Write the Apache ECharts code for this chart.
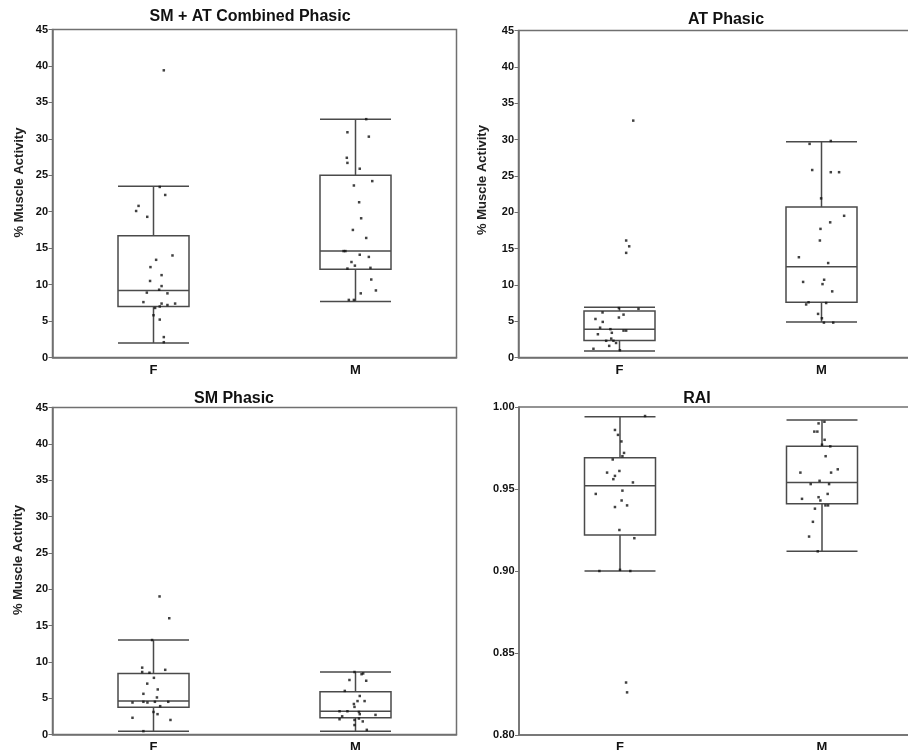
<!DOCTYPE html>
<html><head><meta charset="utf-8">
<script src="https://cdn.jsdelivr.net/npm/echarts@6/dist/echarts.min.js"></script>
<style>html,body{margin:0;padding:0;background:#fff}#c{width:908px;height:750px}</style>
</head><body><div id="c"></div>
<script>
const categories = ['F', 'M'];
const yTicksPct = [0, 5, 10, 15, 20, 25, 30, 35, 40, 45];
const yTicksRAI = ['0.80', '0.85', '0.90', '0.95', '1.00'];
const titles = ['SM + AT Combined Phasic', 'AT Phasic', 'SM Phasic', 'RAI'];

// box stats: [lowerWhisker, Q1, median, Q3, upperWhisker]
const combinedBoxF = [2.0, 7.0, 9.2, 16.7, 23.5];
const combinedBoxM = [7.7, 12.1, 14.6, 25.0, 32.7];
const atBoxF = [0.9, 2.35, 3.9, 6.4, 6.9];
const atBoxM = [4.9, 7.6, 12.5, 20.7, 29.7];
const smBoxF = [0.45, 3.75, 4.6, 8.4, 13.0];
const smBoxM = [0.45, 2.3, 3.2, 5.9, 8.6];
const raiBoxF = [0.900, 0.922, 0.952, 0.969, 0.994];
const raiBoxM = [0.912, 0.941, 0.954, 0.976, 0.992];

// individual observations
const combinedF = [39.4, 23.4, 22.3, 20.8, 20.1, 19.3, 14.0, 13.4, 12.4, 11.3, 10.5, 9.8, 9.3, 8.9, 8.8, 7.6, 7.4, 7.4, 7.2, 7.0, 6.8, 5.8, 5.2, 2.8, 2.1];
const combinedFJit = [0.051, 0.031, 0.058, -0.074, -0.086, -0.031, 0.094, 0.013, -0.015, 0.040, -0.017, 0.040, 0.028, -0.033, 0.069, -0.050, 0.040, 0.107, 0.069, 0.031, 0.008, 0, 0.031, 0.051, 0.051];
const combinedM = [32.7, 30.9, 30.3, 27.4, 26.7, 25.9, 24.2, 23.6, 21.3, 19.1, 17.5, 16.4, 14.6, 14.6, 14.1, 13.8, 13.1, 12.6, 12.2, 12.3, 10.7, 9.2, 8.8, 7.9, 7.9];
const combinedMJit = [0.053, -0.040, 0.066, -0.043, -0.040, 0.021, 0.083, -0.008, 0.018, 0.028, -0.013, 0.053, -0.059, -0.050, 0.021, 0.066, -0.020, -0.003, -0.040, 0.074, 0.078, 0.101, 0.026, -0.033, -0.008];

const atF = [32.6, 16.1, 15.3, 14.4, 6.8, 6.7, 6.2, 5.9, 5.3, 5.5, 4.9, 4.1, 3.9, 3.7, 3.7, 3.2, 3.4, 2.6, 2.3, 2.3, 2.0, 1.6, 1.2, 1.0];
const atFJit = [0.068, 0.033, 0.048, 0.033, -0.003, 0.094, -0.084, 0.020, -0.119, -0.003, -0.083, -0.096, -0.045, 0.020, 0.033, -0.107, -0.038, -0.041, -0.066, -0.030, -0.017, -0.051, -0.129, 0.002];
const atM = [29.4, 29.8, 25.8, 25.5, 25.5, 21.9, 19.5, 18.6, 17.7, 16.1, 13.8, 13.0, 10.4, 10.7, 10.1, 9.1, 7.6, 7.3, 7.5, 6.0, 5.4, 4.8, 4.8];
const atMJit = [-0.059, 0.046, -0.046, 0.046, 0.087, -0.002, 0.112, 0.043, -0.005, -0.008, -0.112, 0.033, -0.091, 0.013, 0.005, 0.053, -0.064, -0.076, 0.023, -0.017, 0.002, 0.012, 0.058];

const smF = [19.0, 16.0, 13.0, 9.2, 8.6, 8.5, 8.9, 7.8, 7.0, 6.2, 5.6, 5.1, 4.4, 4.5, 4.4, 4.5, 4.5, 3.9, 3.1, 2.8, 2.3, 2.0, 0.46];
const smFJit = [0.030, 0.078, -0.007, -0.056, -0.056, -0.020, 0.058, 0.002, -0.031, 0.021, -0.050, 0.017, -0.104, -0.050, -0.030, 0.007, 0.073, 0.033, 0, 0.020, -0.104, 0.084, -0.050];
const smM = [8.6, 8.3, 8.4, 7.5, 7.4, 6.0, 5.3, 4.6, 4.6, 4.2, 3.8, 3.2, 3.2, 3.1, 2.8, 2.7, 2.5, 2.1, 2.2, 2.0, 1.8, 1.3, 0.64];
const smMJit = [-0.005, 0.030, 0.038, -0.030, 0.053, -0.053, 0.021, 0.010, 0.045, -0.008, -0.005, -0.079, -0.040, 0.017, 0.021, 0.099, -0.066, -0.079, 0.017, -0.005, 0.036, -0.005, 0.056];

const raiF = [0.9945, 0.986, 0.983, 0.979, 0.972, 0.970, 0.968, 0.960, 0.961, 0.958, 0.956, 0.954, 0.949, 0.947, 0.943, 0.940, 0.939, 0.925, 0.920, 0.9007, 0.900, 0.900, 0.832, 0.826];
const raiFJit = [0.124, -0.025, -0.010, 0.007, 0.020, 0.012, -0.036, -0.064, -0.003, -0.025, -0.033, 0.064, 0.012, -0.120, 0.008, 0.035, -0.025, -0.003, 0.071, 0, -0.102, 0.051, 0.030, 0.035];
const raiM = [0.991, 0.990, 0.985, 0.985, 0.980, 0.977, 0.976, 0.970, 0.962, 0.960, 0.960, 0.955, 0.953, 0.953, 0.947, 0.944, 0.945, 0.943, 0.940, 0.940, 0.938, 0.930, 0.921, 0.912];
const raiMJit = [0.012, -0.017, -0.038, -0.023, 0.013, 0, 0.041, 0.018, 0.078, -0.107, 0.045, -0.012, -0.056, 0.035, 0.028, -0.099, -0.017, -0.008, 0.017, 0.030, -0.035, -0.045, -0.064, -0.021];

const FONT = '"Liberation Sans", Arial, sans-serif';
const AXIS = '#707070';
const panels = [
  {title: titles[0], grid: {left: 52.5, top: 29.5, width: 404, height: 328}, titlePos: [250, 9], yName: '% Muscle Activity', nameGap: 27, nameShift: 22,
   boxes: [combinedBoxF, combinedBoxM], pts: [[combinedF, combinedFJit], [combinedM, combinedMJit]], ticks: yTicksPct},
  {title: titles[1], grid: {left: 518.5, top: 30.5, width: 404, height: 327}, titlePos: [726, 12], yName: '% Muscle Activity', nameGap: 30, nameShift: 28,
   boxes: [atBoxF, atBoxM], pts: [[atF, atFJit], [atM, atMJit]], ticks: yTicksPct},
  {title: titles[2], grid: {left: 52.5, top: 407.5, width: 404, height: 327}, titlePos: [234, 391], yName: '% Muscle Activity', nameGap: 28, nameShift: 22,
   boxes: [smBoxF, smBoxM], pts: [[smF, smFJit], [smM, smMJit]], ticks: yTicksPct},
  {title: titles[3], grid: {left: 519, top: 407, width: 404, height: 328}, titlePos: [697, 391], yName: '', nameGap: 30, nameShift: 0,
   boxes: [raiBoxF, raiBoxM], pts: [[raiF, raiFJit], [raiM, raiMJit]], ticks: yTicksRAI}
];

const option = {animation: false, backgroundColor: '#fff', title: [], grid: [], xAxis: [], yAxis: [], series: []};
panels.forEach((p, i) => {
  option.title.push({text: p.title, left: p.titlePos[0], top: p.titlePos[1], textAlign: 'center', padding: 0,
    textStyle: {fontFamily: FONT, fontSize: 16, fontWeight: 'bold', color: '#111'}});
  option.grid.push(Object.assign({show: true, borderColor: AXIS, borderWidth: 1.5, backgroundColor: 'transparent',
    containLabel: false, outerBoundsMode: 'none'}, p.grid));
  option.xAxis.push({type: 'category', gridIndex: i, data: categories, boundaryGap: true,
    axisLine: {onZero: false, lineStyle: {color: AXIS, width: 1.5}}, axisTick: {show: false},
    axisLabel: {fontFamily: FONT, fontSize: 13, fontWeight: 'bold', color: '#111', margin: 6}});
  option.xAxis.push({type: 'value', gridIndex: i, min: -0.5, max: 1.5, show: false});
  const t = p.ticks.map(Number);
  const interval = t[1] - t[0];
  option.yAxis.push({type: 'value', gridIndex: i, min: t[0], max: t[t.length - 1], interval: interval,
    name: p.yName, nameLocation: 'middle', nameGap: p.nameGap,
    nameTextStyle: {fontFamily: FONT, fontSize: 13, fontWeight: 'bold', color: '#222', padding: [0, 0, 0, p.nameShift]},
    splitLine: {show: false},
    axisLine: {show: true, onZero: false, lineStyle: {color: AXIS, width: 1.5}},
    axisTick: {show: true, length: 4, lineStyle: {color: AXIS, width: 1}},
    axisLabel: {fontFamily: FONT, fontSize: 11, fontWeight: 'bold', color: '#111', margin: 4.5,
      formatter: v => { const idx = t.findIndex(x => Math.abs(x - v) < 1e-6); return idx >= 0 ? String(p.ticks[idx]) : ''; }}});
  option.series.push({type: 'boxplot', xAxisIndex: 2 * i, yAxisIndex: i, data: p.boxes, boxWidth: [71, 71],
    itemStyle: {color: '#fff', borderColor: '#4a4a4a', borderWidth: 1.5}, z: 2});
  const data = [];
  p.pts.forEach((g, ci) => g[0].forEach((v, k) => data.push([ci + g[1][k], v])));
  option.series.push({type: 'scatter', xAxisIndex: 2 * i + 1, yAxisIndex: i, data: data, symbol: 'rect', symbolSize: 2.5,
    itemStyle: {color: '#111'}, z: 3});
});
const chart = echarts.init(document.getElementById('c'), null, {renderer: 'canvas'});
chart.setOption(option);
</script></body></html>
